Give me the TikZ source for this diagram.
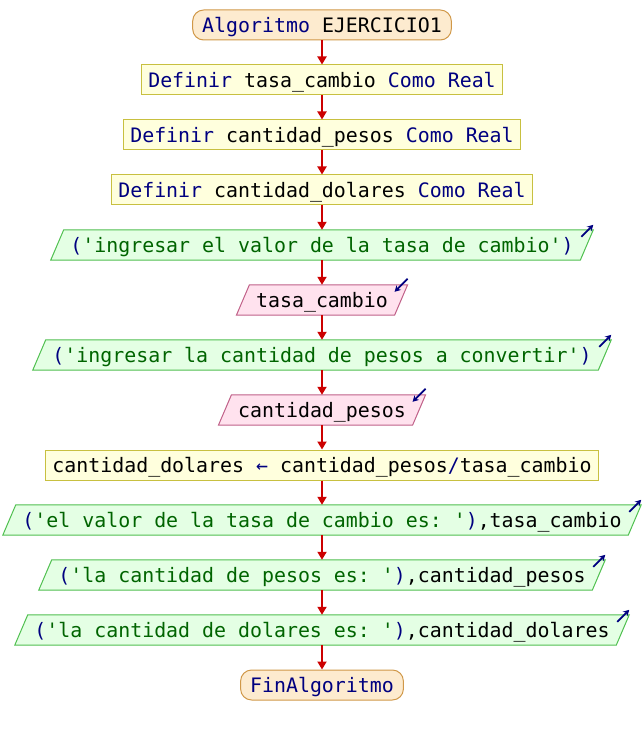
\documentclass[tikz,border=0pt]{standalone}
\usepackage{fontspec}
\setmonofont{DejaVu Sans Mono}
\usetikzlibrary{arrows.meta,backgrounds}
\definecolor{kwc}{HTML}{000080}
\definecolor{strc}{HTML}{006400}
\definecolor{termf}{HTML}{FDEBCF}
\definecolor{termb}{HTML}{D09848}
\definecolor{procf}{HTML}{FFFFDD}
\definecolor{procb}{HTML}{C8C040}
\definecolor{outf}{HTML}{E4FFE4}
\definecolor{outb}{HTML}{50C050}
\definecolor{inf}{HTML}{FFE2EE}
\definecolor{inb}{HTML}{C06088}
\definecolor{redc}{HTML}{CC0000}
\newcommand{\kw}[1]{\textcolor{kwc}{#1}}
\newcommand{\strg}[1]{\textcolor{strc}{#1}}
\newcommand{\outpara}[1]{%
  \begin{scope}[on background layer]
  \path[outshape] ([xshift=-6.5pt]#1.south west) -- ([xshift=6.5pt]#1.north west) -- ([xshift=6.5pt]#1.north east) -- ([xshift=-6.5pt]#1.south east) -- cycle;
  \end{scope}
  \draw[smallarr] ([xshift=-5.5pt,yshift=-7pt]#1.north east) -- ([xshift=6.5pt,yshift=5pt]#1.north east);}
\newcommand{\inpara}[1]{%
  \begin{scope}[on background layer]
  \path[inshape] ([xshift=-6.5pt]#1.south west) -- ([xshift=6.5pt]#1.north west) -- ([xshift=6.5pt]#1.north east) -- ([xshift=-6.5pt]#1.south east) -- cycle;
  \end{scope}
  \draw[smallarr] ([xshift=6.5pt,yshift=6pt]#1.north east) -- ([xshift=-6.5pt,yshift=-7pt]#1.north east);}
\tikzset{
  base/.style={font=\ttfamily\fontsize{19.9}{24}\selectfont, text height=14.5pt, text depth=0pt, minimum height=30pt, inner ysep=0pt},
  term/.style={base, draw=termb, fill=termf, rounded corners=11pt, inner xsep=9.5pt, line width=1pt},
  proc/.style={base, draw=procb, fill=procf, inner xsep=6.5pt, line width=1pt},
  io/.style={base, inner xsep=13pt},
  outshape/.style={draw=outb, fill=outf, line width=1pt},
  inshape/.style={draw=inb, fill=inf, line width=1pt},
  conn/.style={draw=redc, line width=1.8pt, -{Triangle[length=8pt,width=9pt]}},
  smallarr/.style={draw=kwc, line width=1.8pt, -{Stealth[length=6pt,width=6.5pt]}}
}
\begin{document}
\begin{tikzpicture}[x=1pt,y=-1pt]
\useasboundingbox (0,0) rectangle (644,735);
\node[term] (n1) at (322,25) {\kw{Algoritmo} EJERCICIO1};
\node[proc] (n2) at (322,80) {\kw{Definir} tasa\_cambio \kw{Como Real}};
\node[proc] (n3) at (322,135) {\kw{Definir} cantidad\_pesos \kw{Como Real}};
\node[proc] (n4) at (322,190) {\kw{Definir} cantidad\_dolares \kw{Como Real}};
\node[io] (n5) at (322,245) {\kw{(}\strg{'ingresar el valor de la tasa de cambio'}\kw{)}};
\node[io] (n6) at (322,300) {tasa\_cambio};
\node[io] (n7) at (322,355) {\kw{(}\strg{'ingresar la cantidad de pesos a convertir'}\kw{)}};
\node[io] (n8) at (322,410) {cantidad\_pesos};
\node[proc] (n9) at (322,465) {cantidad\_dolares \kw{←} cantidad\_pesos\kw{/}tasa\_cambio};
\node[io] (n10) at (322,520) {\kw{(}\strg{'el valor de la tasa de cambio es: '}\kw{)},tasa\_cambio};
\node[io] (n11) at (322,575) {\kw{(}\strg{'la cantidad de pesos es: '}\kw{)},cantidad\_pesos};
\node[io] (n12) at (322,630) {\kw{(}\strg{'la cantidad de dolares es: '}\kw{)},cantidad\_dolares};
\node[term] (n13) at (322,685) {\kw{FinAlgoritmo}};
\outpara{n5}
\inpara{n6}
\outpara{n7}
\inpara{n8}
\outpara{n10}
\outpara{n11}
\outpara{n12}
\draw[conn] (n1.south) -- (n2.north);
\draw[conn] (n2.south) -- (n3.north);
\draw[conn] (n3.south) -- (n4.north);
\draw[conn] (n4.south) -- (n5.north);
\draw[conn] (n5.south) -- (n6.north);
\draw[conn] (n6.south) -- (n7.north);
\draw[conn] (n7.south) -- (n8.north);
\draw[conn] (n8.south) -- (n9.north);
\draw[conn] (n9.south) -- (n10.north);
\draw[conn] (n10.south) -- (n11.north);
\draw[conn] (n11.south) -- (n12.north);
\draw[conn] (n12.south) -- (n13.north);
\end{tikzpicture}
\end{document}
